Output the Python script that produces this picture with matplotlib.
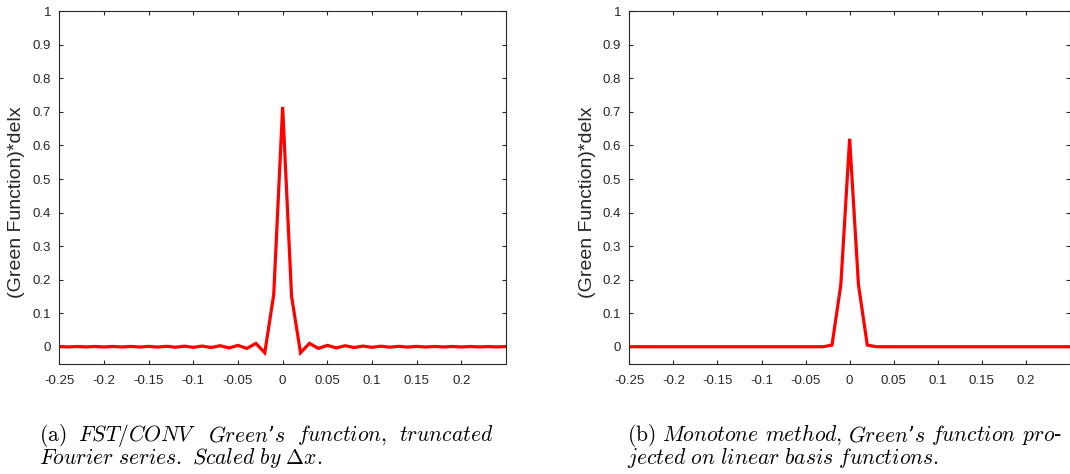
import numpy as np
import matplotlib.pyplot as plt

plt.rcParams['mathtext.fontset'] = 'cm'
plt.rcParams['font.family'] = ['Liberation Sans', 'DejaVu Sans']

# grid, dx = 0.01
x = np.round(np.arange(-0.25, 0.2501, 0.01), 2)

# (a) FST/CONV Green's function, truncated Fourier series
fst_left = [0.0005, -0.0005, 0.0005, -0.0005, 0.0006, -0.0006, 0.0007, -0.0007, 0.0008, -0.0009,
            0.001, -0.0011, 0.0012, -0.0014, 0.0016, -0.0018, 0.002, -0.0024, 0.003, -0.0035,
            0.004, -0.005, 0.01, -0.018, 0.155]
fst_peak = 0.715
fst_right = [0.15, -0.018, 0.01, -0.005, 0.004, -0.0035, 0.003, -0.0024, 0.002, -0.0018,
             0.0016, -0.0014, 0.0012, -0.0011, 0.001, -0.0009, 0.0008, -0.0007, 0.0007, -0.0006,
             0.0006, -0.0005, 0.0005, -0.0005, 0.0005]
g_fst = fst_left + [fst_peak] + fst_right

# (b) monotone method, projected on linear basis functions
mono_left = [0.0] * 23 + [0.005, 0.185]
mono_peak = 0.62
mono_right = [0.185, 0.005] + [0.0] * 23
g_mono = mono_left + [mono_peak] + mono_right

xticks = [-0.25, -0.2, -0.15, -0.1, -0.05, 0, 0.05, 0.1, 0.15, 0.2]
xtick_labels = ['-0.25', '-0.2', '-0.15', '-0.1', '-0.05', '0', '0.05', '0.1', '0.15', '0.2']
yticks = [0, 0.1, 0.2, 0.3, 0.4, 0.5, 0.6, 0.7, 0.8, 0.9, 1]
ytick_labels = ['0', '0.1', '0.2', '0.3', '0.4', '0.5', '0.6', '0.7', '0.8', '0.9', '1']

# captions: first line justified word by word, second line as is
cap_a_words = [r'$\mathrm{(a)}$', r'$\mathit{FST/CONV}$', r'$\mathit{Green}$’$\mathit{s}$',
               r'$\mathit{function,}$', r'$\mathit{truncated}$']
cap_a_line2 = r'$\mathit{Fourier\ series.\ Scaled\ by\ \Delta x.}$'
cap_b_words = [r'$\mathrm{(b)}$', r'$\mathit{Monotone}$', r'$\mathit{method,}$',
               r'$\mathit{Green}$’$\mathit{s}$', r'$\mathit{function}$', r'$\mathit{pro}$-']
cap_b_line2 = r'$\mathit{jected\ on\ linear\ basis\ functions.}$'

W, H = 1070, 474
fig = plt.figure(figsize=(W / 100, H / 100), dpi=100)

boxes = [[59.3 / W, 110.5 / H, 446.7 / W, 352.2 / H], [629.3 / W, 110.5 / H, 440.7 / W, 352.2 / H]]
series = [g_fst, g_mono]
label_x = [25, 596]

for box, g, lx in zip(boxes, series, label_x):
    ax = fig.add_axes(box)
    ax.plot(x, g, color='#ff0000', lw=2.3, solid_joinstyle='miter')
    ax.set_xlim(-0.25, 0.25)
    ax.set_ylim(-0.05, 1)
    ax.set_xticks(xticks)
    ax.set_xticklabels(xtick_labels)
    ax.set_yticks(yticks)
    ax.set_yticklabels(ytick_labels)
    ax.tick_params(direction='in', top=True, right=True, length=3, width=0.8,
                   labelsize=9.5, colors='#262626', pad=6)
    ax.tick_params(axis='x', pad=8)
    for s in ax.spines.values():
        s.set_color('#262626')
        s.set_linewidth(0.8)
    ax.set_ylabel('(Green Function)*delx', fontsize=14, color='#262626')
    ax.yaxis.set_label_coords(lx / W, 1 - 202 / H, transform=fig.transFigure)

renderer = fig.canvas.get_renderer()
cap_kw = dict(fontsize=15.5, family='DejaVu Serif', va='baseline', ha='left')
for words, line2, x0, x1 in ((cap_a_words, cap_a_line2, 39, 493),
                             (cap_b_words, cap_b_line2, 627, 1062)):
    texts = [fig.text(x0 / W, 1 - 441 / H, w, **cap_kw) for w in words]
    widths = [t.get_window_extent(renderer).width for t in texts]
    gap = (x1 - x0 - sum(widths)) / (len(texts) - 1)
    pos = x0
    for t, w in zip(texts, widths):
        t.set_x(pos / W)
        pos += w + gap
    fig.text(x0 / W, 1 - 464 / H, line2, **cap_kw)

fig.savefig('out.png', dpi=100)
